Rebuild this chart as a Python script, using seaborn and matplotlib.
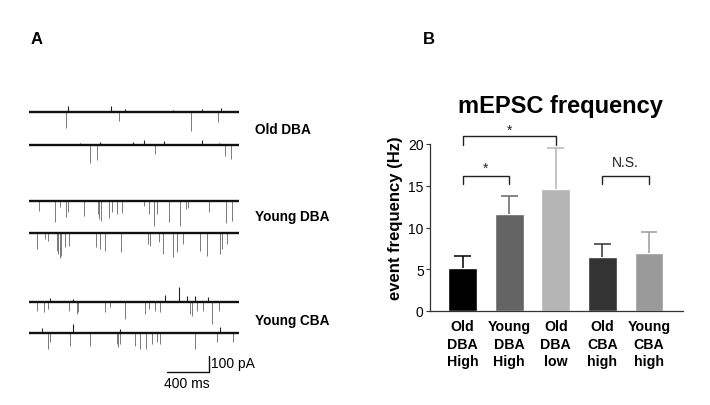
import matplotlib
matplotlib.use("Agg")
import matplotlib.pyplot as plt
import seaborn as sns
import numpy as np
import pandas as pd

sns.set_theme(style="white")
plt.rcParams['font.family'] = ['Liberation Sans', 'DejaVu Sans']
plt.rcParams['text.color'] = 'black'
plt.rcParams['axes.labelcolor'] = 'black'
plt.rcParams['xtick.color'] = 'black'
plt.rcParams['ytick.color'] = 'black'

# ---------------- data: panel B ----------------
groups = ["Old\nDBA\nHigh", "Young\nDBA\nHigh", "Old\nDBA\nlow", "Old\nCBA\nhigh", "Young\nCBA\nhigh"]
freq_mean = [5.15, 11.6, 14.6, 6.5, 7.0]
freq_sem = [1.4, 2.2, 4.9, 1.55, 2.5]
bar_colors = ["#000000", "#646464", "#b4b4b4", "#333333", "#9a9a9a"]
sig_pairs = [(0, 2, "*"), (0, 1, "*"), (3, 4, "N.S.")]

# ---------------- data: panel A (event times ms, amplitudes pA) ----------------
trace_names = ["Old DBA", "Young DBA", "Young CBA"]
old_dba_1_t = [347, 854, 1537, 1796]
old_dba_1_a = [100, 56, 119, 62]
old_dba_1_up_t = [371, 775, 911, 1368, 1641, 1825]
old_dba_1_up_a = [37, 37, 19, 12, 19, 25]
old_dba_2_t = [578, 641, 1194, 1860, 1917]
old_dba_2_a = [112, 94, 56, 69, 87]
old_dba_2_up_t = [483, 673, 990, 1092, 1282, 1641, 1806]
old_dba_2_up_a = [12, 19, 19, 31, 25, 31, 12]
young_dba_1_t = [92, 245, 292, 349, 371, 524, 651, 666, 683, 762, 784, 832, 880,
                 1092, 1140, 1190, 1213, 1333, 1435, 1489, 1508, 1711, 1870, 1933]
young_dba_1_a = [62, 135, 42, 104, 73, 98, 83, 114, 125, 110, 73, 83, 77,
                 31, 83, 156, 83, 135, 156, 52, 48, 69, 142, 125]
young_dba_1_up_t = []
young_dba_1_up_a = []
young_dba_2_t = [70, 149, 181, 261, 276, 292, 302, 340, 381, 635, 673, 721, 870,
                 1133, 1149, 1235, 1276, 1371, 1409, 1466, 1625, 1689, 1815, 1832, 1885]
young_dba_2_a = [100, 38, 48, 110, 131, 158, 142, 89, 79, 89, 100, 110, 121,
                 69, 79, 58, 131, 152, 121, 69, 110, 142, 131, 100, 69]
young_dba_2_up_t = []
young_dba_2_up_a = []
young_cba_1_t = [70, 140, 181, 381, 451, 466, 721, 768, 911, 1101, 1140, 1197, 1244,
                 1530, 1552, 1594, 1657, 1742, 1809]
young_cba_1_a = [56, 67, 46, 56, 77, 67, 67, 35, 108, 77, 46, 56, 67, 77, 88, 56, 56, 140, 56]
young_cba_1_up_t = [197, 419, 1292, 1428, 1498, 1577, 1704]
young_cba_1_up_a = [21, 17, 42, 90, 33, 37, 27]
young_cba_2_t = [181, 197, 387, 578, 832, 847, 863, 1006, 1054, 1111, 1165, 1213, 1244,
                 1577, 1784, 1942]
young_cba_2_a = [100, 58, 79, 79, 69, 89, 69, 79, 100, 100, 69, 58, 69, 100, 58, 58]
young_cba_2_up_t = [118, 413, 863, 1815]
young_cba_2_up_a = [29, 56, 25, 35]
trace_duration = 2000
scale_ms = 400
scale_pa = 100

W, H = 710, 406
fig = plt.figure(figsize=(W / 100, H / 100), dpi=100)

def px_rect(left, top, width, height):
    return [left / W, 1 - (top + height) / H, width / W, height / H]

def ftext(x, y, s, **kw):
    fig.text(x / W, 1 - y / H, s, **kw)

# ---------------- panel A ----------------
axA = fig.add_axes(px_rect(29.3, 100, 210, 280))
axA.set_xlim(0, trace_duration)
axA.set_ylim(-1750, 0)
axA.axis("off")
traces = [
    (old_dba_1_t, old_dba_1_a, old_dba_1_up_t, old_dba_1_up_a, -81),
    (old_dba_2_t, old_dba_2_a, old_dba_2_up_t, old_dba_2_up_a, -286),
    (young_dba_1_t, young_dba_1_a, young_dba_1_up_t, young_dba_1_up_a, -636),
    (young_dba_2_t, young_dba_2_a, young_dba_2_up_t, young_dba_2_up_a, -838),
    (young_cba_1_t, young_cba_1_a, young_cba_1_up_t, young_cba_1_up_a, -1267),
    (young_cba_2_t, young_cba_2_a, young_cba_2_up_t, young_cba_2_up_a, -1463),
]
for t, a, ut, ua, off in traces:
    t = np.asarray(t, float); a = np.asarray(a, float)
    axA.vlines(t, off, off - a, color="#7a7a7a", lw=0.7)
    if len(ut):
        ut = np.asarray(ut, float); ua = np.asarray(ua, float)
        axA.vlines(ut, off, off + ua, color="#222222", lw=0.8)
    axA.hlines(off, 0, trace_duration, color="#111111", lw=1.7)

# scale bar
sb_x, sb_y = 1711, -1706
axA.plot([sb_x - scale_ms, sb_x, sb_x], [sb_y, sb_y, sb_y + scale_pa], color="#111111", lw=1.0,
         clip_on=False)

ftext(211, 364, f"{scale_pa} pA", fontsize=10, va="center", ha="left")
ftext(187, 384, f"{scale_ms} ms", fontsize=10, va="center", ha="center")

for name, y in zip(trace_names, [130.5, 217, 321.5]):
    ftext(255, y, name, fontsize=9.8, fontweight="bold", va="center", ha="left")

ftext(37, 40, "A", fontsize=12, fontweight="bold", va="center", ha="center")
ftext(428.5, 40, "B", fontsize=12, fontweight="bold", va="center", ha="center")

# ---------------- panel B ----------------
axB = fig.add_axes(px_rect(430, 145, 253, 167))
df = pd.DataFrame({"group": groups, "freq": freq_mean})
sns.barplot(data=df, x="group", y="freq", hue="group", palette=bar_colors, order=groups,
            hue_order=groups, width=0.62, saturation=1, legend=False, errorbar=None, ax=axB)
cap = 0.18
for i, (m, e, c) in enumerate(zip(freq_mean, freq_sem, bar_colors)):
    axB.vlines(i, m, m + e, color=c, lw=1.1, clip_on=False)
    axB.hlines(m + e, i - cap, i + cap, color=c, lw=1.1, clip_on=False)
axB.set_xlim(-0.70, 4.73)
axB.set_ylim(0, 20)
axB.set_yticks([0, 5, 10, 15, 20])
axB.tick_params(axis="y", length=3, width=0.8, pad=1.5, labelsize=10, left=True, color="#333333")
axB.tick_params(axis="x", length=0, pad=6)
for lab in axB.get_xticklabels():
    lab.set_fontweight("bold")
    lab.set_fontsize(10.2)
    lab.set_linespacing(1.3)
axB.set_xlabel("")
axB.set_ylabel("event frequency (Hz)", fontsize=12, fontweight="bold")
axB.yaxis.set_label_coords(-0.105, 0.563)
for s in ["top", "right"]:
    axB.spines[s].set_visible(False)
for s in ["left", "bottom"]:
    axB.spines[s].set_color("#333333")
    axB.spines[s].set_linewidth(0.9)

bracket_levels = [(21.0, 19.9, 21.7), (16.2, 15.2, 17.2), (16.2, 15.2, 17.2)]
for (i, j, lab), (top, foot, ty) in zip(sig_pairs, bracket_levels):
    axB.plot([i, i, j, j], [foot, top, top, foot], color="#222222", lw=1.0, clip_on=False)
    axB.text((i + j) / 2, ty if lab == "*" else ty - 0.2, lab, ha="center",
             va="center" if lab == "*" else "bottom", fontsize=10,
             color="#222222")

ftext(560, 107, "mEPSC frequency", fontsize=17, fontweight="bold", ha="center", va="center")

fig.savefig("out.png", dpi=100, facecolor="white")
